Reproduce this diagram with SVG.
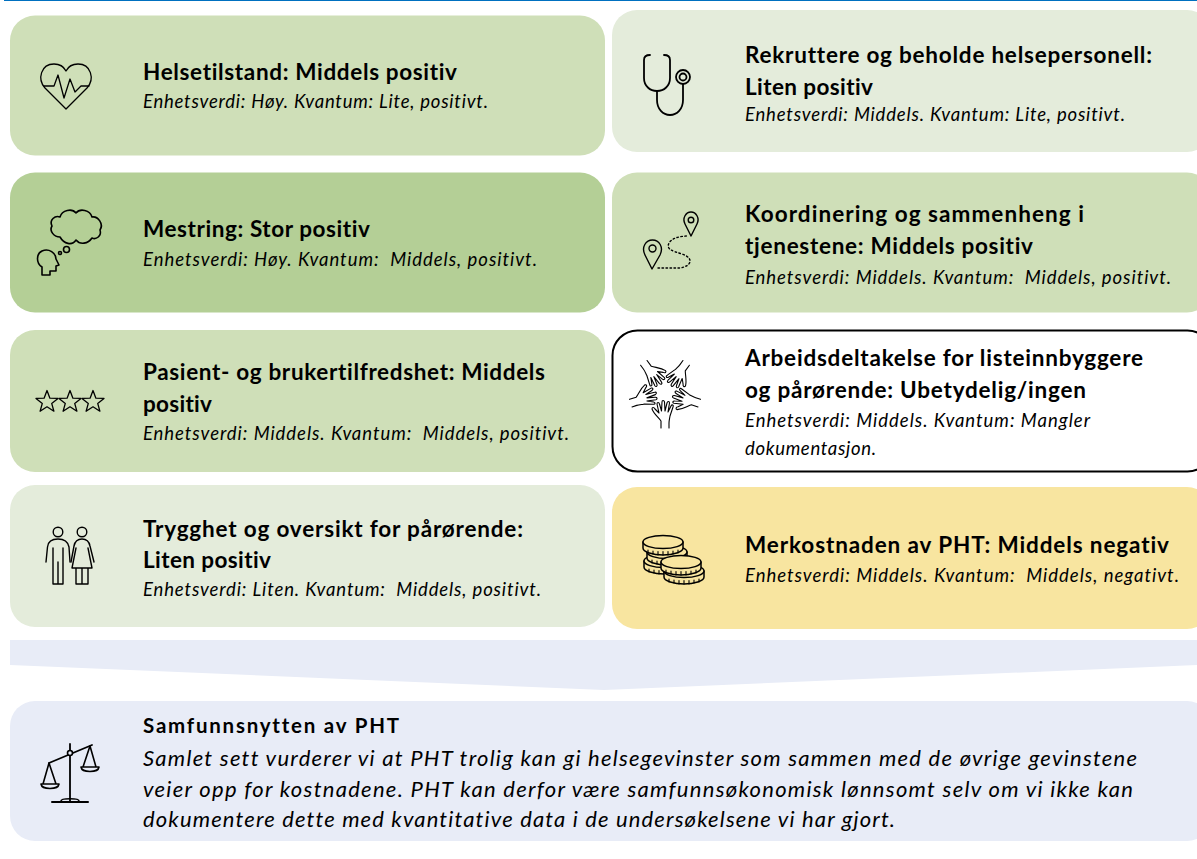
<svg xmlns="http://www.w3.org/2000/svg" width="1197" height="859" viewBox="0 0 1197 859">
<style>
text{font-family:Lato,"Liberation Sans",sans-serif;fill:#000;white-space:pre;font-variant-ligatures:none}
.t{font-weight:700;font-size:22.500px}
.s{font-style:italic;font-size:18.500px}
.b{font-style:italic;font-size:22px}
.i{fill:none;stroke:#000;stroke-width:1.600;stroke-linejoin:round;stroke-linecap:round}
.c1{fill:#CFDFB8}.c2{fill:#B4CF96}.c3{fill:#E4ECDB}.c4{fill:#F8E5A0}.c5{fill:#E8ECF7}
</style>
<defs>
<path id="star" d="M0 -11.500L2.900 -3.800L11 -3.600L4.700 1.400L6.900 9.200L0 4.800L-6.900 9.200L-4.700 1.400L-11 -3.600L-2.900 -3.800Z"/>
<path id="hand" d="M-4 36V29C-7 25-11 22-13 17C-13 15-11 15-10 17L-6 21L-8 12C-8 10-6 10-5.500 12L-3.500 19L-3 10C-3 8-1 8-0.500 10L0 19L2 11C2.500 9 4.500 9 4.500 11L3 20L6 14C7 12 9 13 8 15L5 24C4.500 27 4 29 4 31V36"/>
<g id="coin">
<path d="M-20 0V6C-20 10-10 13 0 13S20 10 20 6V0"/>
<ellipse cx="0" cy="0" rx="20" ry="6.500"/>
<path d="M-15 8V11M-10 9V12M-5 9.500V13M0 9.500V13M5 9.500V13M10 9V12M15 8V11" stroke-width="1.100"/>
</g>
</defs>
<rect x="4" y="0" width="1193" height="1" fill="#0070C0"/>
<g id="banner"><polygon class="c5" points="10,640 1197,640 1197,665 604,690 10,665"/></g>

<g id="node-helsetilstand">
<rect class="c1" x="10" y="15.500" width="595" height="140" rx="25"/>
<g class="i" style="stroke-width:1.300"><path d="M66 109L45 88C37 79 41 64 54 64C60 64 64 67 66 71C68 67 72 64 78 64C91 64 95 79 87 88Z"/><path d="M44 86H54L58 75L64 98L70 79L75 92L81 86H89"/></g>
<text class="t" x="143" y="80" textLength="314">Helsetilstand: Middels positiv</text>
<text class="s" x="143" y="108" textLength="345">Enhetsverdi: Høy. Kvantum: Lite, positivt.</text>
</g>

<g id="node-mestring">
<rect class="c2" x="10" y="172.500" width="595" height="140" rx="25"/>
<g class="i"><path d="M60 237C54 237 49 231 52 226C49 220 55 215 60 217C62 210 72 208 76 213C80 208 90 210 92 217C98 216 104 224 100 230C102 236 96 240 92 238C88 244 80 245 76 240C72 246 64 244 60 237Z"/>
<circle cx="66.500" cy="249.500" r="3"/><circle cx="60" cy="253" r="1.500"/>
<path d="M42 275V267C36 263 36 254 42 251C49 248 56 253 56 259L59 265L56 266V271H50V275Z"/></g>
<text class="t" x="143" y="237" textLength="227">Mestring: Stor positiv</text>
<text class="s" x="143" y="266" textLength="394">Enhetsverdi: Høy. Kvantum:  Middels, positivt.</text>
</g>

<g id="node-pasient">
<rect class="c1" x="10" y="330" width="595" height="142" rx="25"/>
<g class="i" style="stroke-width:1.300"><use href="#star" x="47" y="402"/><use href="#star" x="70" y="402"/><use href="#star" x="93" y="402"/></g>
<text class="t" x="143" y="380" textLength="402">Pasient- og brukertilfredshet: Middels</text>
<text class="t" x="143" y="412" textLength="69">positiv</text>
<text class="s" x="143" y="440" textLength="426">Enhetsverdi: Middels. Kvantum:  Middels, positivt.</text>
</g>

<g id="node-trygghet">
<rect class="c3" x="10" y="485" width="595" height="142" rx="25"/>
<g class="i" style="stroke-width:1.400"><circle cx="58" cy="532" r="4.800"/><circle cx="82" cy="532" r="4.800"/>
<path d="M46 562L47.500 547C48 542 52 539 58 539C64 539 68 542 69 547L70 562M53 548V584H63V548M58 562V584"/>
<path d="M71 562L74 546C75 541 78 539 82 539C86 539 89 541 90 546L94 562M76 548L72 568H92L88 548M76 568V584H88V568M82 568V584"/></g>
<text class="t" x="143" y="537" textLength="380">Trygghet og oversikt for pårørende:</text>
<text class="t" x="143" y="568" textLength="128">Liten positiv</text>
<text class="s" x="143" y="596" textLength="398">Enhetsverdi: Liten. Kvantum:  Middels, positivt.</text>
</g>

<g id="node-rekruttere">
<rect class="c3" x="612" y="10" width="600" height="142" rx="25"/>
<g class="i" style="stroke-width:1.800"><path d="M650 55Q644 55 644 60V78C644 86 650 91 657 91C664 91 670 86 670 78V60Q670 55 664 55"/><path d="M657 91V100C657 109 663 115 670 115C677 115 683 109 683 100V84"/><circle cx="683" cy="77" r="7"/><circle cx="683" cy="77" r="3.500"/></g>
<text class="t" x="745" y="63" textLength="407">Rekruttere og beholde helsepersonell:</text>
<text class="t" x="745" y="95" textLength="128">Liten positiv</text>
<text class="s" x="745" y="121" textLength="380">Enhetsverdi: Middels. Kvantum: Lite, positivt.</text>
</g>

<g id="node-koordinering">
<rect class="c1" x="612" y="172.500" width="600" height="140" rx="25"/>
<g class="i" style="stroke-width:1.400"><path d="M652 269L645 255C641 247 646 240 652.500 240C659 240 664 247 660 255Z"/><circle cx="652.500" cy="248.500" r="3.500"/>
<path d="M691 236L685 224C682 218 686 212 691 212C696 212 700 218 697 224Z"/><circle cx="691" cy="220" r="2.800"/>
<path d="M658 268H680C692 266 694 258 682 254C672 251 666 249 669 243C672 238 680 236 688 236" stroke-dasharray="1.500 2.500"/></g>
<text class="t" x="745" y="222" textLength="339">Koordinering og sammenheng i</text>
<text class="t" x="745" y="254" textLength="288">tjenestene: Middels positiv</text>
<text class="s" x="745" y="284" textLength="426">Enhetsverdi: Middels. Kvantum:  Middels, positivt.</text>
</g>

<g id="node-arbeid">
<rect x="612.500" y="330.500" width="600" height="141" rx="25" fill="#fff" stroke="#000" stroke-width="2"/>
<g class="i" style="stroke-width:1.100" transform="translate(665 392)"><use href="#hand"/><use href="#hand" transform="rotate(72)"/><use href="#hand" transform="rotate(144)"/><use href="#hand" transform="rotate(216)"/><use href="#hand" transform="rotate(288)"/></g>
<text class="t" x="745" y="366" textLength="398">Arbeidsdeltakelse for listeinnbyggere</text>
<text class="t" x="745" y="398" textLength="341">og pårørende: Ubetydelig/ingen</text>
<text class="s" x="745" y="427" textLength="345">Enhetsverdi: Middels. Kvantum: Mangler</text>
<text class="s" x="745" y="455" textLength="131">dokumentasjon.</text>
</g>

<g id="node-merkostnad">
<rect class="c4" x="612" y="487" width="600" height="142" rx="25"/>
<g class="i" style="stroke-width:1.500;fill:#F8E5A0"><use href="#coin" transform="translate(664 561)"/><use href="#coin" transform="translate(667 552)"/><use href="#coin" transform="translate(663 542)"/><use href="#coin" transform="translate(684 571)"/><use href="#coin" transform="translate(681 562)"/></g>
<text class="t" x="745" y="553" textLength="424">Merkostnaden av PHT: Middels negativ</text>
<text class="s" x="745" y="582" textLength="434">Enhetsverdi: Middels. Kvantum:  Middels, negativt.</text>
</g>

<g id="node-samfunnsnytten">
<rect class="c5" x="10" y="701" width="1202" height="140" rx="25"/>
<g class="i"><path d="M70 744V802M49 763L92 745" style="stroke-width:1.800"/><circle cx="70" cy="753" r="2.500" fill="#E8ECF7"/>
<path d="M49 763L43 784M49 763L56 784M41 784H59C58 790 42 790 41 784Z"/><path d="M90 746L83 767M90 746L96 767M81 767H99C98 773 82 773 81 767Z"/>
<path d="M61 801C61 798 79 798 79 801"/><path d="M52 802H88" style="stroke-width:2"/></g>
<text class="t" style="font-size:20.500px" x="143" y="733" textLength="256">Samfunnsnytten av PHT</text>
<text class="b" x="143" y="766" textLength="994">Samlet sett vurderer vi at PHT trolig kan gi helsegevinster som sammen med de øvrige gevinstene</text>
<text class="b" x="143" y="797" textLength="990">veier opp for kostnadene. PHT kan derfor være samfunnsøkonomisk lønnsomt selv om vi ikke kan</text>
<text class="b" x="143" y="827" textLength="752">dokumentere dette med kvantitative data i de undersøkelsene vi har gjort.</text>
</g>
</svg>
